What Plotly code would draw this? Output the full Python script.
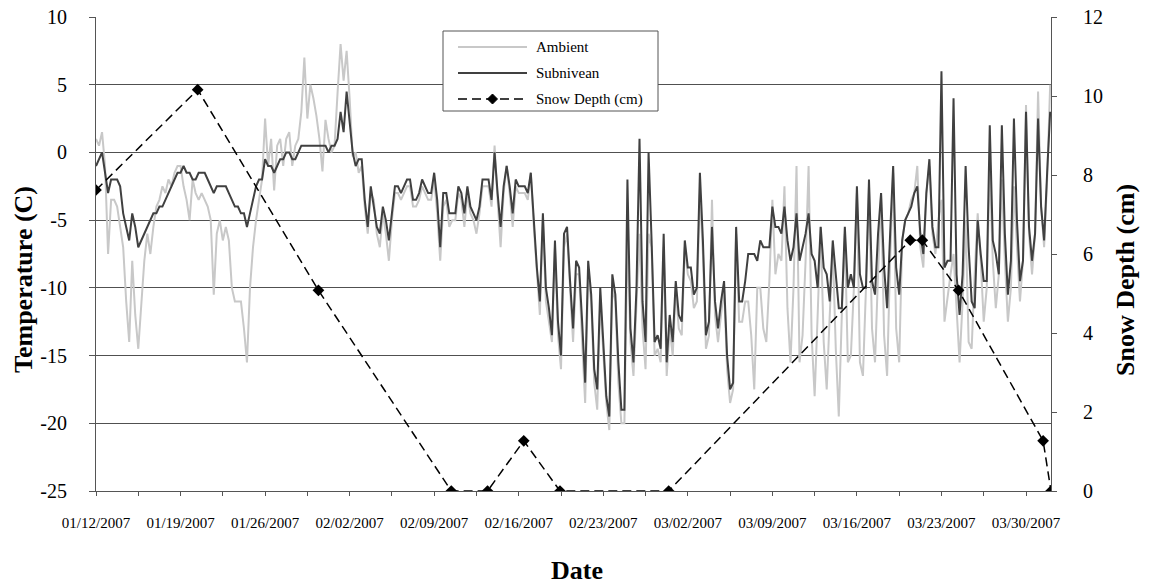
import pandas as pd
import plotly.graph_objects as go

# ---------------- data ----------------
# temperature samples every 6 hours starting 01/12/2007 00:00
sample_start = "2007-01-12 00:00"
sample_freq = "6h"

ambient_c = [
    1, 0.5, 1.5, -1,   -7.5, -3.5, -3.5, -4,   -5.5, -7, -11, -14,   -8, -12, -14.5, -11,
    -8, -6, -7.5, -5.5,   -4, -3.5, -2.5, -3,   -2, -2.5, -1.5, -1,   -1, -2.5, -3.5, -5,
    -2, -3, -3.5, -3,   -3.5, -4, -5, -10.5,   -6, -5, -6.5, -5.5,   -6.5, -10, -11, -11,
    -11, -13, -15.5, -10,   -7, -5, -3.5, -2,   2.5, -1, 1, -2.8,   0.5, 1, -1, 1,
    1.5, -1, 0.5, 1,   3, 7, 2.5, 5,   4, 2.7, 1, -1.4,   2.4, 1, 0, 0.5,
    4.4, 8, 5.3, 7.5,   4, -0.3, 0, -1.5,   -1, -4, -6, -3,   -3.5, -6, -7, -4.5,
    -6, -8, -5, -3,   -3, -3.5, -3, -2.5,   -2.5, -4, -4, -3.5,   -2.5, -3, -3.5, -3.5,
    -2, -4.5, -8, -4,   -3.5, -5.5, -5, -5,   -3, -3.5, -5.5, -3,   -4.5, -5, -6, -4.5,
    -2.5, -2.5, -2.5, -4,   0.5, -3.5, -7, -3,   -1, -3, -5.5, -2.5,   -3, -3, -3, -3.5,
    -1.5, -5.5, -9, -12,   -5, -11, -12.5, -14,   -7, -13.5, -16, -7,   -6, -10, -14, -9,
    -9, -14, -18.5, -9,   -11, -17, -19, -11,   -14.5, -18.5, -20.5, -10,   -11, -17, -20, -20,
    -6, -14, -16.5, -11,   -6, -13, -16, -6,   -7, -15, -14.5, -15.5,   -7, -16.5, -13, -15,
    -10, -13, -13.5, -7,   -9, -9.5, -11.5, -11,   -3, -7.5, -14.5, -13.5,   -3.5, -12, -14, -12,
    -10, -16, -18.5, -17.5,   -6, -12.5, -12.5, -11,   -11, -13.5, -17.5, -10,   -10, -13, -14, -9.5,
    -3.5, -9, -7.5, -8,   -2.5, -11.5, -15.5, -10,   -1, -15.5, -13.5, -8,   -1, -13.5, -18, -12,
    -5.5, -14, -17.5, -12,   -7, -14.5, -19.5, -12,   -6, -15.5, -15, -10,   -3, -15.5, -16.5, -10,
    -2.5, -13, -15.5, -9,   -3, -13.5, -16.5, -8,   -1.5, -13, -15.5, -6.5,   -5, -4.5, -3.5, -3,
    -1, -7, -8.5, -3,   -1, -6, -7.5, -5,   -3.5, -12.5, -10.5, -9,   -7.5, -12, -15.5, -11,
    -5, -14, -14.5, -9,   -4.5, -8, -12.5, -10,   -1, -8, -11.5, -9,   -2, -8, -12.5, -10,
    -2.5, -7, -11, -8,   3.5, -6, -9, -6,   4.5, -4, -7, -2,   5,
]

subnivean_c = [
    -1, -0.5, 0, -1.5,   -3, -2, -2, -2,   -2.5, -4.5, -5.5, -6.5,   -4.5, -5.5, -7, -6.5,
    -6, -5.5, -5, -4.5,   -4.5, -4, -4, -3.5,   -3, -2.5, -2, -1.5,   -1.5, -1, -1.5, -1.5,
    -2, -2, -1.5, -1.5,   -1.5, -2, -2.5, -3,   -2.5, -2.5, -2.5, -2.5,   -3, -3.5, -4, -4,
    -4.5, -4.5, -5.5, -4.5,   -3.5, -2.5, -2, -2,   -0.5, -1, -1, -1.5,   -1, -0.5, -0.5, 0,
    0, -0.5, -0.5, 0,   0.5, 0.5, 0.5, 0.5,   0.5, 0.5, 0.5, 0.5,   0.5, 0, 0.5, 0.5,
    1, 3, 1.5, 4.5,   2, 0, -1, -0.5,   -0.5, -3.5, -5.5, -2.5,   -4, -5.5, -6, -4,
    -5, -6.5, -4.5, -2.5,   -2.5, -3, -2.5, -2,   -2, -3.5, -3.5, -3,   -2, -2.5, -3, -3,
    -1.5, -3.5, -7, -3,   -3, -4.5, -4.5, -4.5,   -2.5, -3, -4.5, -2.5,   -4, -4.5, -5, -4,
    -2, -2, -2, -3.5,   0, -3, -5.5, -2.5,   -1, -2.5, -4.5, -2,   -2.5, -2.5, -2.5, -3,
    -1.5, -5, -8.5, -11,   -4.5, -10, -11.5, -13.5,   -6.5, -12.5, -15, -6,   -5.5, -9.5, -13, -8,
    -8.5, -12.5, -17, -8,   -10.5, -16, -17.5, -10,   -14, -18, -19.5, -9,   -10.5, -15.5, -19, -19,
    -2, -13, -15.5, -10,   1, -11, -14, 0,   -6.5, -14, -13.5, -14.5,   -6, -15.5, -12, -14,
    -9.5, -12, -12.5, -6.5,   -8.5, -8.5, -10.5, -10,   -1.5, -6.5, -13.5, -12.5,   -5.5, -11, -13, -11,
    -9.5, -15, -17.5, -17,   -5.5, -11, -11, -9.5,   -7.5, -7.5, -7.5, -8,   -6.5, -7, -7, -7,
    -4, -5.5, -5.5, -6,   -4, -6.5, -8, -7,   -4.5, -8, -7, -6,   -4.5, -7.5, -8, -10,
    -5.5, -8.5, -9, -11,   -6.5, -9, -11.5, -11.5,   -5.5, -10, -9, -10,   -2.5, -9, -10, -10,
    -2, -9.5, -10.5, -6,   -3, -8.5, -11.5, -6,   -1, -8.5, -10.5, -6.5,   -5, -4.5, -4, -3,
    -2.5, -6, -7.5, -3,   -0.5, -5.5, -7, -7,   6, -8.5, -8, -8,   4, -9, -12, -9,
    -1, -7, -11, -11.5,   -5, -7.5, -9.5, -9.5,   2, -6.5, -7.5, -9,   2, -6, -10.5, -8,
    2.5, -5, -9.5, -8,   3, -5.5, -8, -6,   2.5, -4, -6.5, -1.5,   3,
]

snow_dates = [
    "2007-01-12 00:00", "2007-01-20 10:00", "2007-01-30 10:00", "2007-02-10 10:00",
    "2007-02-13 10:00", "2007-02-16 10:00", "2007-02-19 10:00", "2007-02-28 10:00",
    "2007-03-20 10:00", "2007-03-21 10:00", "2007-03-24 10:00", "2007-03-31 10:00",
    "2007-04-01 01:40",
]
snow_depth_cm = [7.62, 10.16, 5.08, 0, 0, 1.27, 0, 0, 6.35, 6.35, 5.08, 1.27, 0]

temp_ticks = [-25, -20, -15, -10, -5, 0, 5, 10]
depth_ticks = [0, 2, 4, 6, 8, 10, 12]

series_names = ["Ambient", "Subnivean", "Snow Depth (cm)"]
series_colors = ["#c8c8c8", "#404040", "black"]

# ---------------- layout geometry (screen pixels of the reference) ----------------
PLOT_L, PLOT_R, PLOT_T, PLOT_B = 96, 1051, 17, 491
FIG_W, FIG_H = 1151, 588


def px(x):  # screen x -> paper x
    return (x - PLOT_L) / (PLOT_R - PLOT_L)


def py(y):  # screen y -> paper y
    return (PLOT_B - y) / (PLOT_B - PLOT_T)


FONT = "Times New Roman, Liberation Serif, serif"
AXC = "#555555"
GRIDC = "#505050"
DAY_MS = 86400000
SNOW_DASH = "9px,5px"

# ---------------- figure ----------------
times = pd.date_range(sample_start, periods=len(subnivean_c), freq=sample_freq)

fig = go.Figure()
fig.add_trace(go.Scatter(x=times, y=ambient_c, name=series_names[0], mode="lines",
                         line=dict(color=series_colors[0], width=2), showlegend=False))
fig.add_trace(go.Scatter(x=times, y=subnivean_c, name=series_names[1], mode="lines",
                         line=dict(color=series_colors[1], width=2), showlegend=False))
fig.add_trace(go.Scatter(x=pd.to_datetime(snow_dates), y=snow_depth_cm, name=series_names[2],
                         mode="lines+markers", yaxis="y2", showlegend=False,
                         line=dict(color=series_colors[2], width=1.5, dash=SNOW_DASH),
                         marker=dict(symbol="diamond", size=9, color=series_colors[2])))

# ---- legend box drawn as layout decoration (Excel style, long key lines) ----
shapes = [dict(type="rect", xref="paper", yref="paper", layer="above",
               x0=px(443), x1=px(658), y0=py(111), y1=py(31),
               line=dict(color=AXC, width=1), fillcolor="white")]
annotations = []
row_y = [47, 73, 99]
for name, color, ry in zip(series_names, series_colors, row_y):
    dash = SNOW_DASH if name.startswith("Snow") else "solid"
    width = 1.5 if name.startswith("Snow") else 2
    shapes.append(dict(type="line", xref="paper", yref="paper", layer="above",
                       x0=px(458), x1=px(527), y0=py(ry), y1=py(ry),
                       line=dict(color=color, width=width, dash=dash)))
    annotations.append(dict(text=name, xref="paper", yref="paper", x=px(534), y=py(ry),
                            xanchor="left", yanchor="middle", showarrow=False,
                            font=dict(family=FONT, size=15, color="black")))
# diamond key of the snow-depth entry
cx, cy, r = 492.5, row_y[2], 5
shapes.append(dict(type="path", xref="paper", yref="paper", layer="above",
                   path=(f"M {px(cx)},{py(cy - r)} L {px(cx + r)},{py(cy)} "
                         f"L {px(cx)},{py(cy + r)} L {px(cx - r)},{py(cy)} Z"),
                   fillcolor="black", line=dict(color="black", width=1)))

# ---- axis titles (placed like the reference, centred on the chart area) ----
annotations += [
    dict(text="<b>Temperature (C)</b>", xref="paper", yref="paper", x=px(23), y=py(280),
         textangle=-90, xanchor="center", yanchor="middle", showarrow=False,
         font=dict(family=FONT, size=26, color="black")),
    dict(text="<b>Snow Depth (cm)</b>", xref="paper", yref="paper", x=px(1125), y=py(280),
         textangle=-90, xanchor="center", yanchor="middle", showarrow=False,
         font=dict(family=FONT, size=26, color="black")),
    dict(text="<b>Date</b>", xref="paper", yref="paper", x=px(577), y=py(570),
         xanchor="center", yanchor="middle", showarrow=False,
         font=dict(family=FONT, size=26, color="black")),
]

fig.update_layout(
    width=FIG_W, height=FIG_H,
    margin=dict(l=PLOT_L, r=FIG_W - PLOT_R, t=PLOT_T, b=FIG_H - PLOT_B, autoexpand=False),
    paper_bgcolor="white", plot_bgcolor="white",
    font=dict(family=FONT, color="black"),
    showlegend=False,
    shapes=shapes, annotations=annotations,
    xaxis=dict(
        type="date",
        range=["2007-01-12 00:00", "2007-04-01 01:40"],
        tick0="2007-01-12", dtick=7 * DAY_MS, tickformat="%m/%d/%Y",
        ticks="outside", ticklen=4, tickcolor=AXC,
        minor=dict(dtick=3.5 * DAY_MS, tick0="2007-01-12", ticks="outside", ticklen=4,
                   tickcolor=AXC, showgrid=False),
        showline=True, linecolor=AXC, linewidth=1, showgrid=False, zeroline=False,
        tickfont=dict(family=FONT, size=15), ticklabelstandoff=14,
        ticklabeloverflow="allow",
    ),
    yaxis=dict(
        range=[-25, 10], tickvals=temp_ticks, ticktext=[str(v) for v in temp_ticks],
        ticks="outside", ticklen=6, tickcolor=AXC,
        showline=True, linecolor=AXC, linewidth=1,
        showgrid=True, gridcolor=GRIDC, gridwidth=1, zeroline=False,
        tickfont=dict(family=FONT, size=20), ticklabelstandoff=18,
        ticklabeloverflow="allow",
    ),
    yaxis2=dict(
        overlaying="y", side="right", range=[0, 12], tickvals=depth_ticks,
        ticktext=[str(v) for v in depth_ticks],
        ticks="outside", ticklen=5, tickcolor=AXC,
        showline=True, linecolor=AXC, linewidth=1, showgrid=False, zeroline=False,
        tickfont=dict(family=FONT, size=20), ticklabelstandoff=22,
        ticklabeloverflow="allow",
    ),
)

# remove the page's default 8px body margin so the figure fills the window exactly
fig.write_html("out.html",
               config={"displayModeBar": False},
               post_script="document.body.style.margin='0';"
                           "document.body.style.overflow='hidden';")
